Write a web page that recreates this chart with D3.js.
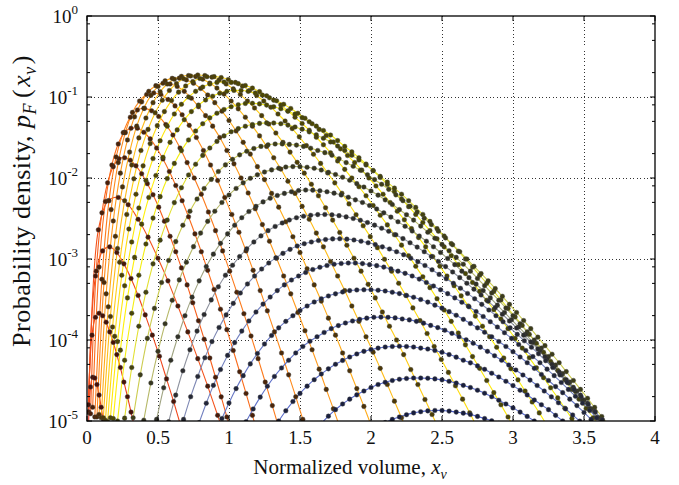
<!DOCTYPE html>
<html><head><meta charset="utf-8">
<script src="https://cdn.jsdelivr.net/npm/d3@7"></script>
<style>body{margin:0;background:#fff}svg{display:block}</style>
</head><body><svg id="c" width="679" height="485"></svg>
<script>
// ---------- data ----------
const xTicks = [0, 0.5, 1, 1.5, 2, 2.5, 3, 3.5, 4];
const yDecades = [-5, -4, -3, -2, -1, 0];
const yMinorMantissas = [2, 5, 8];
// x of first sample and sample spacing for each curve
const xStart = [0.01,0.01,0.01,0.01,0.025,0.04,0.055,0.07,0.085,0.1,0.115,0.13,0.145,0.165,0.185,0.215,0.265,0.325,0.40,0.49,0.575,0.68,0.79,0.95,1.12,1.35,1.65,2.1];
const xStep  = [0.015,0.025,0.05,0.07,0.04,0.045,0.05,0.05,0.05,0.05,0.05,0.05,0.05,0.05,0.05,0.05,0.05,0.05,0.05,0.05,0.05,0.05,0.05,0.05,0.05,0.05,0.05,0.05];
// log10 of probability density along each curve
const a01 = [-5.10,-4.58,-4.46,-4.47,-4.55,-4.68,-4.83,-5.01,-5.20];
const a02 = [-4.80,-3.94,-3.72,-3.67,-3.70,-3.78,-3.90,-4.03,-4.18,-4.34,-4.52,-4.70,-4.89,-5.08];
const a03 = [-4.89,-3.21,-2.90,-2.85,-2.92,-3.06,-3.24,-3.45,-3.69,-3.94,-4.20,-4.48,-4.76,-5.06];
const a04 = [-4.89,-2.64,-2.28,-2.24,-2.33,-2.51,-2.73,-2.99,-3.27,-3.58,-3.90,-4.23,-4.57,-4.93,-5.29];
const a05 = [-4.91,-3.15,-2.43,-2.06,-1.86,-1.763,-1.75,-1.78,-1.85,-1.948,-2.07,-2.206,-2.36,-2.534,-2.72,-2.91,-3.11,-3.32,-3.54,-3.762,-3.99,-4.222,-4.46,-4.702,-4.95,-5.205,-5.46];
const a06 = [-4.83,-3.10,-2.29,-1.84,-1.58,-1.435,-1.385,-1.386,-1.435,-1.5175,-1.63,-1.765,-1.92,-2.0925,-2.28,-2.479,-2.69,-2.91,-3.14,-3.376,-3.62,-3.872,-4.13,-4.392,-4.66,-4.93,-5.21];
const a07 = [-4.95,-3.25,-2.28,-1.74,-1.44,-1.25,-1.16,-1.14,-1.17,-1.24,-1.34,-1.47,-1.63,-1.81,-2.00,-2.20,-2.42,-2.65,-2.90,-3.15,-3.41,-3.675,-3.95,-4.23,-4.52,-4.81,-5.11];
const a08 = [-4.95,-3.29,-2.39,-1.81,-1.44,-1.19,-1.05,-0.97,-0.95,-0.97,-1.03,-1.11,-1.22,-1.35,-1.50,-1.66,-1.84,-2.03,-2.24,-2.45,-2.67,-2.90,-3.14,-3.39,-3.64,-3.90,-4.16,-4.43,-4.70,-4.98,-5.26];
const a09 = [-4.92,-3.43,-2.53,-1.94,-1.53,-1.245,-1.06,-0.93,-0.86,-0.83,-0.84,-0.87,-0.93,-1.015,-1.12,-1.23,-1.36,-1.50,-1.66,-1.825,-2.00,-2.185,-2.38,-2.575,-2.78,-2.99,-3.21,-3.43,-3.66,-3.885,-4.12,-4.36,-4.61,-4.85,-5.10];
const a10 = [-4.96,-3.59,-2.72,-2.11,-1.68,-1.36,-1.14,-0.98,-0.87,-0.80,-0.77,-0.767,-0.79,-0.83,-0.895,-0.975,-1.07,-1.175,-1.29,-1.42,-1.56,-1.705,-1.86,-2.02,-2.19,-2.36,-2.54,-2.725,-2.92,-3.12,-3.32,-3.52,-3.73,-3.94,-4.16,-4.38,-4.60,-4.82,-5.05];
const a11 = [-4.96,-3.71,-2.87,-2.28,-1.84,-1.505,-1.26,-1.07,-0.935,-0.84,-0.78,-0.745,-0.735,-0.748,-0.78,-0.828,-0.89,-0.964,-1.05,-1.146,-1.25,-1.36,-1.48,-1.61,-1.75,-1.89,-2.04,-2.19,-2.35,-2.51,-2.68,-2.85,-3.03,-3.21,-3.39,-3.58,-3.77,-3.96,-4.15,-4.35,-4.55,-4.755,-4.96,-5.165,-5.37];
const a12 = [-4.99,-3.84,-3.04,-2.45,-2.01,-1.66,-1.40,-1.195,-1.04,-0.92,-0.835,-0.775,-0.74,-0.728,-0.735,-0.755,-0.79,-0.84,-0.90,-0.97,-1.05,-1.136,-1.23,-1.334,-1.445,-1.56,-1.68,-1.807,-1.94,-2.077,-2.22,-2.367,-2.52,-2.673,-2.83,-2.99,-3.15,-3.313,-3.48,-3.655,-3.83,-4.0,-4.18,-4.365,-4.55,-4.735,-4.92,-5.11,-5.30];
const a13 = [-5.01,-3.955,-3.20,-2.63,-2.20,-1.85,-1.575,-1.354,-1.18,-1.044,-0.94,-0.864,-0.81,-0.771,-0.75,-0.748,-0.76,-0.784,-0.82,-0.866,-0.92,-0.981,-1.05,-1.126,-1.21,-1.297,-1.39,-1.492,-1.60,-1.707,-1.82,-1.938,-2.06,-2.188,-2.32,-2.453,-2.59,-2.724,-2.86,-3.004,-3.15,-3.30,-3.45,-3.604,-3.76,-3.92,-4.08,-4.24,-4.40,-4.565,-4.73,-4.90,-5.07];
const a14 = [-4.96,-4.02,-3.33,-2.79,-2.37,-2.03,-1.76,-1.54,-1.36,-1.21,-1.09,-1.0,-0.93,-0.877,-0.84,-0.82,-0.815,-0.82,-0.835,-0.858,-0.89,-0.934,-0.985,-1.039,-1.10,-1.172,-1.25,-1.327,-1.41,-1.497,-1.59,-1.688,-1.79,-1.893,-2.00,-2.108,-2.22,-2.339,-2.46,-2.579,-2.70,-2.829,-2.96,-3.09,-3.22,-3.354,-3.49,-3.63,-3.77,-3.915,-4.06,-4.205,-4.35,-4.50,-4.65,-4.80,-4.95,-5.105,-5.26];
const a15 = [-4.97,-4.125,-3.48,-2.98,-2.57,-2.24,-1.97,-1.745,-1.56,-1.406,-1.28,-1.18,-1.10,-1.037,-0.99,-0.954,-0.93,-0.919,-0.92,-0.93,-0.95,-0.977,-1.01,-1.046,-1.09,-1.142,-1.20,-1.262,-1.33,-1.40,-1.475,-1.555,-1.64,-1.723,-1.81,-1.903,-2.00,-2.098,-2.20,-2.303,-2.41,-2.516,-2.625,-2.736,-2.85,-2.97,-3.09,-3.21,-3.33,-3.455,-3.58,-3.705,-3.83,-3.96,-4.09,-4.222,-4.355,-4.492,-4.63,-4.765,-4.90,-5.04,-5.18];
const a16 = [-5.00,-4.25,-3.67,-3.20,-2.815,-2.495,-2.23,-2.007,-1.82,-1.662,-1.53,-1.42,-1.33,-1.2575,-1.20,-1.154,-1.12,-1.095,-1.08,-1.078,-1.085,-1.10,-1.12,-1.145,-1.175,-1.212,-1.255,-1.305,-1.36,-1.413,-1.47,-1.538,-1.61,-1.678,-1.75,-1.828,-1.91,-1.993,-2.08,-2.168,-2.26,-2.354,-2.45,-2.55,-2.65,-2.75,-2.85,-2.96,-3.07,-3.18,-3.29,-3.40,-3.51,-3.625,-3.74,-3.86,-3.98,-4.10,-4.22,-4.342,-4.465,-4.59,-4.715,-4.842,-4.97,-5.10,-5.23];
const a17 = [-4.965,-4.34,-3.83,-3.41,-3.06,-2.767,-2.52,-2.304,-2.12,-1.9625,-1.83,-1.721,-1.63,-1.548,-1.48,-1.429,-1.39,-1.361,-1.34,-1.326,-1.32,-1.321,-1.33,-1.347,-1.37,-1.397,-1.43,-1.468,-1.51,-1.555,-1.605,-1.66,-1.72,-1.778,-1.84,-1.908,-1.98,-2.05,-2.125,-2.20,-2.28,-2.363,-2.45,-2.536,-2.625,-2.716,-2.81,-2.904,-3.00,-3.10,-3.20,-3.30,-3.40,-3.505,-3.61,-3.715,-3.82,-3.93,-4.04,-4.152,-4.265,-4.377,-4.49,-4.61,-4.73,-4.845,-4.96,-5.08,-5.20];
const a18 = [-4.96,-4.43,-3.98,-3.61,-3.29,-3.018,-2.785,-2.583,-2.41,-2.26,-2.13,-2.017,-1.92,-1.838,-1.77,-1.714,-1.67,-1.636,-1.61,-1.591,-1.58,-1.579,-1.585,-1.594,-1.61,-1.632,-1.66,-1.687,-1.72,-1.762,-1.81,-1.855,-1.905,-1.96,-2.02,-2.078,-2.14,-2.208,-2.28,-2.348,-2.42,-2.496,-2.575,-2.656,-2.74,-2.824,-2.91,-3.00,-3.09,-3.18,-3.27,-3.365,-3.46,-3.56,-3.66,-3.76,-3.86,-3.965,-4.07,-4.175,-4.28,-4.39,-4.50,-4.61,-4.72,-4.832,-4.945,-5.057,-5.17];
const a19 = [-4.99,-4.53,-4.14,-3.80,-3.51,-3.258,-3.04,-2.8475,-2.68,-2.535,-2.41,-2.3025,-2.21,-2.129,-2.06,-2.004,-1.96,-1.926,-1.90,-1.879,-1.865,-1.859,-1.86,-1.867,-1.88,-1.902,-1.93,-1.957,-1.99,-2.027,-2.07,-2.112,-2.16,-2.212,-2.27,-2.328,-2.39,-2.453,-2.52,-2.594,-2.67,-2.744,-2.82,-2.899,-2.98,-3.064,-3.15,-3.24,-3.33,-3.42,-3.51,-3.605,-3.70,-3.80,-3.90,-4.00,-4.10,-4.205,-4.31,-4.415,-4.52,-4.63,-4.74,-4.85,-4.96,-5.07,-5.18];
const a20 = [-4.98,-4.59,-4.25,-3.96,-3.70,-3.471,-3.27,-3.094,-2.94,-2.807,-2.69,-2.583,-2.49,-2.414,-2.35,-2.295,-2.25,-2.216,-2.19,-2.169,-2.155,-2.149,-2.15,-2.157,-2.17,-2.187,-2.21,-2.237,-2.27,-2.302,-2.34,-2.382,-2.43,-2.483,-2.54,-2.596,-2.655,-2.716,-2.78,-2.849,-2.92,-2.994,-3.07,-3.15,-3.23,-3.31,-3.39,-3.48,-3.57,-3.66,-3.75,-3.84,-3.93,-4.03,-4.13,-4.23,-4.33,-4.43,-4.53,-4.635,-4.74,-4.85,-4.96,-5.07,-5.18];
const a21 = [-5.01,-4.68,-4.38,-4.12,-3.89,-3.686,-3.505,-3.343,-3.20,-3.077,-2.97,-2.874,-2.79,-2.715,-2.65,-2.598,-2.555,-2.518,-2.49,-2.472,-2.46,-2.452,-2.45,-2.455,-2.465,-2.48,-2.50,-2.522,-2.55,-2.582,-2.62,-2.658,-2.70,-2.748,-2.80,-2.853,-2.91,-2.969,-3.03,-3.094,-3.16,-3.23,-3.30,-3.372,-3.445,-3.522,-3.60,-3.682,-3.765,-3.852,-3.94,-4.025,-4.11,-4.205,-4.30,-4.395,-4.49,-4.585,-4.68,-4.78,-4.88,-4.985,-5.09];
const a22 = [-4.98,-4.70,-4.45,-4.22,-4.02,-3.845,-3.69,-3.5475,-3.42,-3.308,-3.21,-3.124,-3.05,-2.986,-2.93,-2.881,-2.84,-2.811,-2.79,-2.772,-2.76,-2.752,-2.75,-2.755,-2.765,-2.78,-2.80,-2.822,-2.85,-2.877,-2.91,-2.947,-2.99,-3.033,-3.08,-3.133,-3.19,-3.244,-3.30,-3.361,-3.425,-3.491,-3.56,-3.63,-3.70,-3.775,-3.85,-3.93,-4.01,-4.09,-4.17,-4.255,-4.34,-4.43,-4.52,-4.61,-4.70,-4.795,-4.89,-4.985,-5.08];
const a23 = [-5.02,-4.78,-4.56,-4.365,-4.19,-4.032,-3.89,-3.765,-3.655,-3.557,-3.47,-3.39,-3.32,-3.26,-3.21,-3.166,-3.13,-3.102,-3.08,-3.064,-3.055,-3.05,-3.05,-3.057,-3.07,-3.082,-3.10,-3.122,-3.15,-3.177,-3.21,-3.248,-3.29,-3.333,-3.38,-3.428,-3.48,-3.534,-3.59,-3.649,-3.71,-3.774,-3.84,-3.91,-3.98,-4.055,-4.13,-4.205,-4.28,-4.36,-4.44,-4.525,-4.61,-4.695,-4.78,-4.87,-4.96,-5.05,-5.14];
const a24 = [-4.97,-4.777,-4.60,-4.44,-4.295,-4.166,-4.05,-3.944,-3.85,-3.77,-3.70,-3.636,-3.58,-3.531,-3.49,-3.456,-3.43,-3.407,-3.39,-3.382,-3.38,-3.38,-3.385,-3.395,-3.41,-3.427,-3.45,-3.472,-3.50,-3.532,-3.57,-3.607,-3.65,-3.695,-3.745,-3.796,-3.85,-3.904,-3.96,-4.019,-4.08,-4.145,-4.21,-4.28,-4.35,-4.425,-4.50,-4.575,-4.65,-4.73,-4.81,-4.895,-4.98,-5.065,-5.15];
const a25 = [-5.01,-4.851,-4.705,-4.571,-4.45,-4.345,-4.25,-4.16,-4.08,-4.016,-3.96,-3.907,-3.86,-3.822,-3.79,-3.765,-3.745,-3.73,-3.72,-3.717,-3.72,-3.727,-3.74,-3.752,-3.77,-3.792,-3.82,-3.847,-3.88,-3.918,-3.96,-3.998,-4.04,-4.088,-4.14,-4.194,-4.25,-4.309,-4.37,-4.432,-4.495,-4.562,-4.63,-4.702,-4.775,-4.85,-4.925,-5.002,-5.08];
const a26 = [-5.00,-4.874,-4.76,-4.659,-4.57,-4.49,-4.42,-4.356,-4.30,-4.252,-4.21,-4.172,-4.14,-4.117,-4.10,-4.087,-4.08,-4.077,-4.08,-4.087,-4.10,-4.112,-4.13,-4.152,-4.18,-4.212,-4.25,-4.282,-4.32,-4.362,-4.41,-4.457,-4.51,-4.563,-4.62,-4.678,-4.74,-4.799,-4.86,-4.93,-5.00,-5.07,-5.14];
const a27 = [-5.03,-4.94,-4.86,-4.79,-4.73,-4.677,-4.63,-4.587,-4.55,-4.522,-4.50,-4.485,-4.475,-4.47,-4.47,-4.472,-4.48,-4.492,-4.51,-4.532,-4.56,-4.587,-4.62,-4.657,-4.70,-4.743,-4.79,-4.838,-4.89,-4.943,-5.00,-5.06,-5.12];
const a28 = [-5.02,-4.98,-4.95,-4.922,-4.90,-4.885,-4.875,-4.87,-4.87,-4.878,-4.89,-4.903,-4.92,-4.943,-4.97,-4.998,-5.03];
const curvesLog10 = [a01,a02,a03,a04,a05,a06,a07,a08,a09,a10,a11,a12,a13,a14,a15,a16,a17,a18,a19,a20,a21,a22,a23,a24,a25,a26,a27,a28];

// ---------- styles ----------
const lineColors = ["#e8301c","#ec3a1c","#f0461c","#f4521c","#f75f1c","#fa6c1c","#fc7a1c",
  "#fe8a1c","#ff9a1c","#ffab1a","#ffbc18",
  "#ffcc14","#ffdc10","#ffe80c","#fff00a","#f4ee10",
  "#e2e030","#cccc50","#b6b868",
  "#a0a482","#8e929e",
  "#7e88b4","#7280c0","#6878c6","#6072ca","#5a6ccc","#5466ce","#4e60d0"];

const M = {l: 87, r: 655, t: 16, b: 421};
const serif = '"Liberation Serif","Times New Roman",serif';
const svg = d3.select('#c');
const x = d3.scaleLinear().domain([0, 4]).range([M.l, M.r]);
const y = d3.scaleLog().domain([1e-5, 1]).range([M.b, M.t]);

svg.append('defs').append('clipPath').attr('id','clip')
  .append('rect').attr('x', M.l).attr('y', M.t).attr('width', M.r - M.l).attr('height', M.b - M.t);

// grid
const grid = svg.append('g').attr('stroke','#333').attr('stroke-width',1).attr('stroke-dasharray','1,2.5').attr('shape-rendering','crispEdges');
grid.selectAll('line.v').data(xTicks.slice(1,-1)).join('line')
  .attr('x1', d => Math.round(x(d)) + 0.5).attr('x2', d => Math.round(x(d)) + 0.5).attr('y1', M.t).attr('y2', M.b);
grid.selectAll('line.h').data(yDecades.slice(1,-1)).join('line')
  .attr('y1', d => Math.round(y(Math.pow(10,d))) + 0.5).attr('y2', d => Math.round(y(Math.pow(10,d))) + 0.5).attr('x1', M.l).attr('x2', M.r);

// series
const series = curvesLog10.map((vals, i) => vals.map((v, k) => ({x: xStart[i] + k * xStep[i], p: Math.pow(10, v)})));
const line = d3.line().x(d => x(d.x)).y(d => y(Math.max(d.p, 1e-6))).curve(d3.curveCatmullRom.alpha(0.5));
const plot = svg.append('g').attr('clip-path','url(#clip)');
plot.selectAll('path.s').data(series).join('path')
  .attr('fill','none').attr('stroke', (d, i) => lineColors[i]).attr('stroke-width', 1.1).attr('d', line);
series.forEach((s, i) => {
  const fillCol = d3.interpolateRgb(lineColors[i], '#000')(0.7);
  plot.append('g').selectAll('circle').data(s.filter(d => d.p >= Math.pow(10, -5.04))).join('circle')
    .attr('cx', d => x(d.x)).attr('cy', d => y(d.p)).attr('r', 2.3)
    .attr('fill', fillCol).attr('stroke', '#444').attr('stroke-width', 0.7).attr('stroke-opacity', 0.6);
});

// frame
svg.append('rect').attr('x', M.l).attr('y', M.t).attr('width', M.r - M.l).attr('height', M.b - M.t)
  .attr('fill','none').attr('stroke','#000').attr('stroke-width',1.3);

// ticks
const tk = svg.append('g').attr('stroke','#000').attr('stroke-width',1);
xTicks.forEach(t => {
  const px = x(t);
  tk.append('line').attr('x1',px).attr('x2',px).attr('y1',M.b).attr('y2',M.b-5);
  tk.append('line').attr('x1',px).attr('x2',px).attr('y1',M.t).attr('y2',M.t+5);
});
yDecades.forEach(k => {
  const py = y(Math.pow(10,k));
  tk.append('line').attr('x1',M.l).attr('x2',M.l+5).attr('y1',py).attr('y2',py);
  tk.append('line').attr('x1',M.r).attr('x2',M.r-5).attr('y1',py).attr('y2',py);
  if (k < 0) yMinorMantissas.forEach(m => {
    const pm = y(m * Math.pow(10,k));
    tk.append('line').attr('x1',M.l).attr('x2',M.l+3).attr('y1',pm).attr('y2',pm);
    tk.append('line').attr('x1',M.r).attr('x2',M.r-3).attr('y1',pm).attr('y2',pm);
  });
});

// tick labels
svg.append('g').selectAll('text').data(xTicks).join('text')
  .attr('x', d => x(d)).attr('y', 444).attr('text-anchor','middle')
  .attr('font-family', serif).attr('font-size', 19).attr('fill','#111').text(d => d);
const yl = svg.append('g').selectAll('text').data(yDecades).join('text')
  .attr('x', 78).attr('y', d => y(Math.pow(10,d)) + 6.5).attr('text-anchor','end')
  .attr('font-family', serif).attr('font-size', 19).attr('fill','#111');
yl.append('tspan').text('10');
yl.append('tspan').attr('dy', -9).attr('font-size', 13).text(d => d === 0 ? '0' : '-' + Math.abs(d));

// axis titles
const xt = svg.append('text').attr('x', 350).attr('y', 474).attr('text-anchor','middle')
  .attr('font-family', serif).attr('font-size', 21).attr('fill','#111');
xt.append('tspan').text('Normalized volume, ');
xt.append('tspan').attr('font-style','italic').text('x');
xt.append('tspan').attr('font-style','italic').attr('font-size',14).attr('dy',5).text('v');

const yt = svg.append('text').attr('transform','translate(30,201) rotate(-90)').attr('text-anchor','middle')
  .attr('font-family', serif).attr('font-size', 26).attr('letter-spacing', 0.5).attr('fill','#111');
yt.append('tspan').text('Probability density, ');
yt.append('tspan').attr('font-style','italic').text('p');
yt.append('tspan').attr('font-style','italic').attr('font-size',18).attr('dy',6).text('F');
yt.append('tspan').attr('dy',-6).attr('dx',5).text('(');
yt.append('tspan').attr('font-style','italic').attr('dx',2).text('x');
yt.append('tspan').attr('font-style','italic').attr('font-size',18).attr('dy',6).text('v');
yt.append('tspan').attr('dy',-6).attr('dx',2).text(')');
</script>
</body></html>
